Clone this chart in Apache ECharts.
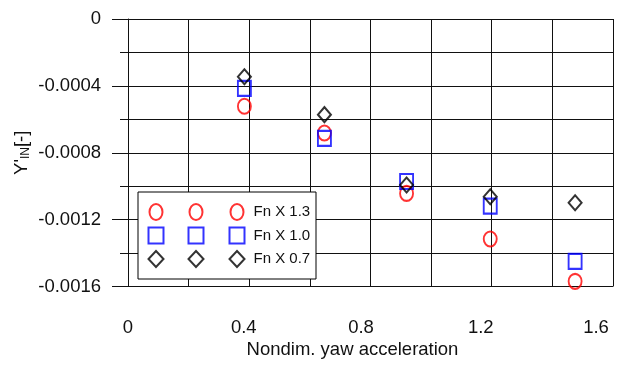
<!DOCTYPE html>
<html>
<head>
<meta charset="utf-8">
<script src="https://cdn.jsdelivr.net/npm/echarts@6/dist/echarts.min.js"></script>
<style>
  html, body { margin: 0; padding: 0; background: #fff; }
  #chart { width: 643px; height: 368px; }
</style>
</head>
<body>
<div id="chart"></div>
<script>
// Nondimensional yaw acceleration (x) and force coefficient Y'IN (y) per Froude scale
const seriesNames = ['Fn X 1.3', 'Fn X 1.0', 'Fn X 0.7'];
const yawAccel = [0.384, 0.648, 0.919, 1.195, 1.475];
const fn13 = [-0.000522, -0.000682, -0.001043, -0.001316, -0.001569];
const fn10 = [-0.000415, -0.000714, -0.000972, -0.001119, -0.00145];
const fn07 = [-0.000345, -0.000572, -0.000993, -0.001063, -0.001099];
const xTickLabels = ['0', '0.4', '0.8', '1.2', '1.6'];
const yTickLabels = ['0', '-0.0004', '-0.0008', '-0.0012', '-0.0016'];

const FONT = '"Liberation Sans", Arial, sans-serif';
const GRID_COLOR = '#111';
const ellipse = 'path://M0,-8A6.5,8 0 1,1 0,8A6.5,8 0 1,1 0,-8Z';
const styles = [
  { symbol: ellipse, color: '#ff0000' },
  { symbol: 'rect', color: '#0000ff' },
  { symbol: 'diamond', color: '#000000' }
];
const values = [fn13, fn10, fn07];

const pairs = (ys) => yawAccel.map((x, i) => [x, ys[i]]);

// x tick labels sit slightly left of their ticks, more so further right
const xLabelShift = [0, 11, 19, 22, 34];
const xRich = {};
xTickLabels.forEach((t, i) => {
  xRich['l' + i] = { fontSize: 18.5, fontFamily: FONT, color: '#111', padding: [0, xLabelShift[i], 0, 0] };
});

const legendData = () => seriesNames.map((n, i) => ({
  name: n,
  icon: styles[i].symbol,
  itemStyle: { color: 'rgba(0,0,0,0)', borderColor: styles[i].color, borderWidth: 2 }
}));

const legendText = { fontSize: 15, lineHeight: 16, fontFamily: FONT, color: '#111' };
const legendCommon = {
  orient: 'vertical',
  itemWidth: 15,
  itemHeight: 16,
  itemGap: 5.5,
  selectedMode: false
};

const option = {
  animation: false,
  backgroundColor: '#fff',
  grid: { left: 128, right: 30, top: 19, bottom: 81.5 },
  xAxis: {
    type: 'value',
    min: 0, max: 1.6, interval: 0.4,
    name: 'Nondim. yaw acceleration',
    nameLocation: 'middle',
    nameGap: 54,
    nameMoveOverlap: false,
    nameTextStyle: { fontSize: 18.5, fontFamily: FONT, color: '#111', padding: [0, 36, 0, 0] },
    axisLine: { show: true, lineStyle: { color: GRID_COLOR, width: 1 } },
    axisTick: { show: true, inside: false, length: 20, lineStyle: { color: GRID_COLOR } },
    minorTick: { show: true, splitNumber: 2, length: 10, lineStyle: { color: GRID_COLOR } },
    splitLine: { show: true, lineStyle: { color: GRID_COLOR, width: 1 } },
    minorSplitLine: { show: true, lineStyle: { color: GRID_COLOR, width: 1 } },
    axisLabel: {
      margin: 32,
      formatter: (v) => {
        const i = Math.round(v / 0.4);
        return '{l' + i + '|' + xTickLabels[i] + '}';
      },
      rich: xRich
    }
  },
  yAxis: {
    type: 'value',
    min: -0.0016, max: 0, interval: 0.0004,
    name: "Y'{s|IN}[-]",
    nameLocation: 'middle',
    nameGap: 96,
    nameMoveOverlap: false,
    nameRotate: 90,
    nameTextStyle: {
      fontSize: 18.5, fontFamily: FONT, color: '#111',
      rich: { s: { fontSize: 12, fontFamily: FONT, color: '#111', padding: [8, 0, 0, 0] } }
    },
    axisLine: { show: true, lineStyle: { color: GRID_COLOR, width: 1 } },
    axisTick: { show: true, inside: false, length: 16, lineStyle: { color: GRID_COLOR } },
    minorTick: { show: true, splitNumber: 2, length: 8, lineStyle: { color: GRID_COLOR } },
    splitLine: { show: true, lineStyle: { color: GRID_COLOR, width: 1 } },
    minorSplitLine: { show: true, lineStyle: { color: GRID_COLOR, width: 1 } },
    axisLabel: {
      margin: 27,
      fontSize: 18.5, fontFamily: FONT, color: '#111',
      formatter: (v) => yTickLabels[Math.round(-v / 0.0004)]
    }
  },
  legend: [
    Object.assign({}, legendCommon, {
      left: 138, top: 192,
      padding: [11, 147.5, 11, 9.5],
      backgroundColor: '#fff',
      borderColor: '#000', borderWidth: 1,
      textStyle: legendText,
      formatter: () => '',
      data: legendData(),
      z: 5
    }),
    Object.assign({}, legendCommon, {
      left: 187.5, top: 203, padding: 0,
      textStyle: legendText,
      formatter: () => '',
      data: legendData(),
      z: 6
    }),
    Object.assign({}, legendCommon, {
      left: 228.5, top: 203, padding: 0,
      textStyle: Object.assign({ padding: [0, 0, 0, 4] }, legendText),
      data: legendData(),
      z: 6
    })
  ],
  series: seriesNames.map((n, i) => ({
    name: n,
    type: 'scatter',
    symbol: styles[i].symbol,
    symbolSize: [13, 15],
    itemStyle: { color: 'rgba(0,0,0,0)', borderColor: styles[i].color, borderWidth: 2 },
    data: pairs(values[i]),
    z: 3 + i
  }))
};

const chart = echarts.init(document.getElementById('chart'), null, { renderer: 'canvas' });
chart.setOption(option);
</script>
</body>
</html>
